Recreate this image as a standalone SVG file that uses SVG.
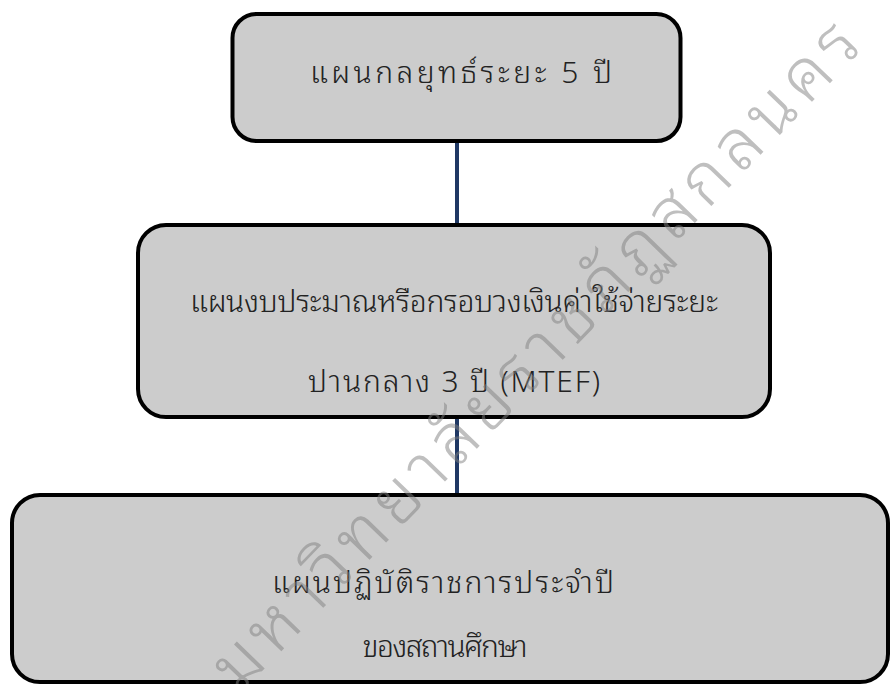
<svg xmlns="http://www.w3.org/2000/svg" width="891" height="684" viewBox="0 0 891 684">
<style>
.box{fill:#cccccc;stroke:#000000;stroke-width:4}
.lbl{font-family:"Noto Sans Thai Looped","Noto Sans Thai","Noto Sans","DejaVu Sans",sans-serif;font-size:30px;font-weight:300;fill:#222222;text-anchor:middle}
.conn{stroke:#1f3864;stroke-width:4;fill:none}
.wm{font-family:"Noto Sans Thai Looped","Noto Sans Thai","Noto Sans","DejaVu Sans",sans-serif;font-size:70px;font-weight:300;fill:#808080;fill-opacity:0.5}
</style>
<rect width="891" height="684" fill="#ffffff"/>
<g id="connectors">
<line class="conn" x1="457" y1="141" x2="457" y2="225"/>
<line class="conn" x1="457" y1="417" x2="457" y2="495"/>
</g>
<g id="node1">
<rect class="box" x="232.5" y="14" width="448" height="127" rx="24"/>
<text class="lbl" x="461" y="83" textLength="302" lengthAdjust="spacing">แผนกลยุทธ์ระยะ  5  ปี</text>
</g>
<g id="node2">
<rect class="box" x="138" y="225" width="632" height="192" rx="28"/>
<text class="lbl" x="454" y="312" textLength="528" lengthAdjust="spacing">แผนงบประมาณหรือกรอบวงเงินค่าใช้จ่ายระยะ</text>
<text class="lbl" x="454" y="392" textLength="292" lengthAdjust="spacing">ปานกลาง  3  ปี  (MTEF)</text>
</g>
<g id="node3">
<rect class="box" x="12" y="495" width="876" height="187" rx="28"/>
<text class="lbl" x="443" y="593" textLength="342" lengthAdjust="spacing">แผนปฏิบัติราชการประจำปี</text>
<text class="lbl" x="445" y="657" textLength="165" lengthAdjust="spacing">ของสถานศึกษา</text>
</g>
<g id="watermark">
<text class="wm" transform="translate(239,695) rotate(-46)" x="0" y="0" textLength="900" lengthAdjust="spacing">มหาวิทยาลัยราชภัฏสกลนคร</text>
</g>
</svg>
